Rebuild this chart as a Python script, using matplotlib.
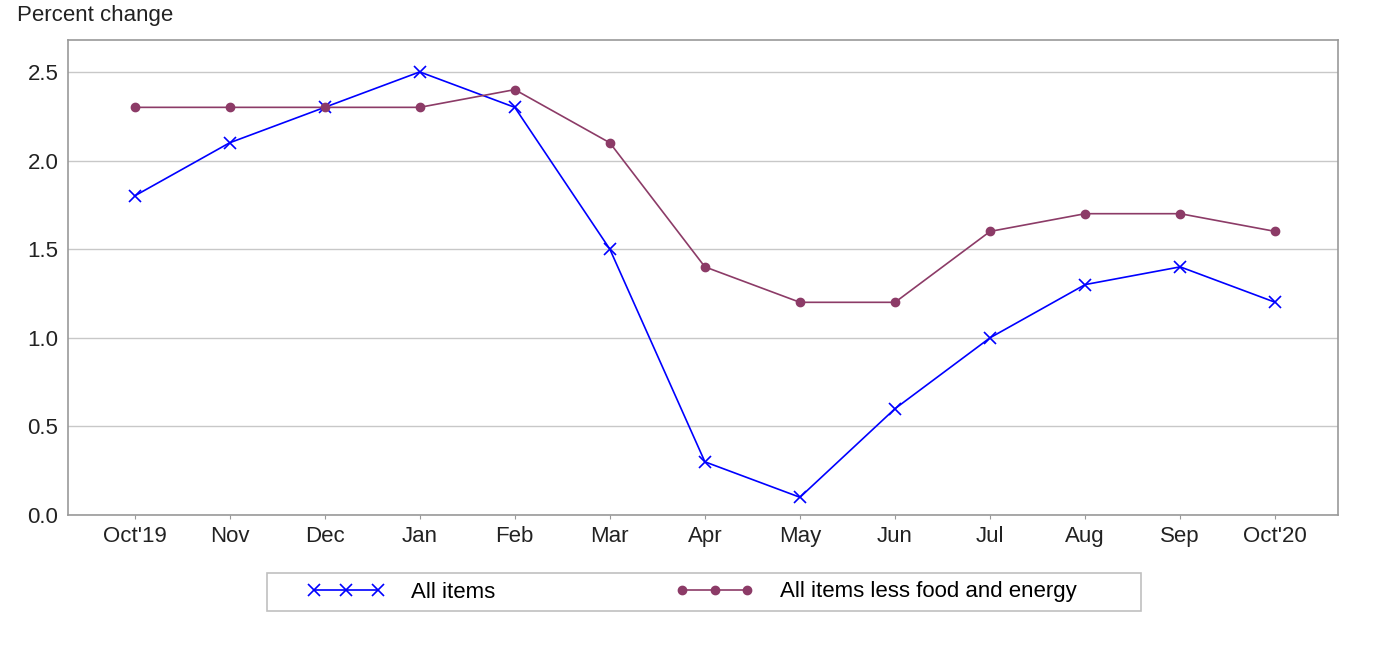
import matplotlib.pyplot as plt
from matplotlib.patches import Rectangle

plt.rcParams['font.family'] = ['Liberation Sans', 'DejaVu Sans']

months = ["Oct'19", 'Nov', 'Dec', 'Jan', 'Feb', 'Mar', 'Apr', 'May', 'Jun', 'Jul', 'Aug', 'Sep', "Oct'20"]
all_items = [1.8, 2.1, 2.3, 2.5, 2.3, 1.5, 0.3, 0.1, 0.6, 1.0, 1.3, 1.4, 1.2]
core_items = [2.3, 2.3, 2.3, 2.3, 2.4, 2.1, 1.4, 1.2, 1.2, 1.6, 1.7, 1.7, 1.6]
y_ticks = [0.0, 0.5, 1.0, 1.5, 2.0, 2.5]

blue = '#0000ff'
purple = '#8c3b67'
frame = '#999999'
fs = 16

fig = plt.figure(figsize=(13.74, 6.68), dpi=100)
ax = fig.add_axes([68 / 1374, 1 - 515 / 668, (1338 - 68) / 1374, (515 - 40) / 668])

x = list(range(len(months)))
ax.plot(x, all_items, color=blue, lw=1.2, marker='x', ms=9, mew=1.2, label='All items')
ax.plot(x, core_items, color=purple, lw=1.2, marker='o', ms=6, label='All items less food and energy')

ax.set_xlim(-0.7, len(months) - 1 + 0.66)
ax.set_ylim(0, 2.68)
ax.set_xticks(x)
ax.set_xticklabels(months)
ax.set_yticks(y_ticks)
ax.set_yticklabels([f'{v:.1f}' for v in y_ticks])
ax.yaxis.grid(True, color='#c8c8c8', lw=1)
ax.set_axisbelow(True)
ax.tick_params(axis='y', length=0, pad=7, labelsize=fs, colors='#222222')
ax.tick_params(axis='x', length=3, color=frame, pad=5, labelsize=fs, colors='#222222')
for s in ax.spines.values():
    s.set_color(frame)
    s.set_linewidth(1.2)

fig.text(17 / 1374, 1 - 15 / 668, 'Percent change', fontsize=fs, va='center', ha='left', color='#222222')

# legend box drawn separately, entries placed inside
fig.patches.append(Rectangle((267 / 1374, 1 - 611 / 668), 874 / 1374, 38 / 668,
                             transform=fig.transFigure, fill=False, edgecolor='#c0c0c0', lw=1.2))
fig.legend(loc='center left', bbox_to_anchor=(307 / 1374, 1 - 592 / 668),
           ncol=2, fontsize=fs, numpoints=3, handlelength=3.5, handletextpad=1.2,
           borderpad=0, borderaxespad=0, frameon=False, columnspacing=8.1)

fig.savefig('out.png', dpi=100)
